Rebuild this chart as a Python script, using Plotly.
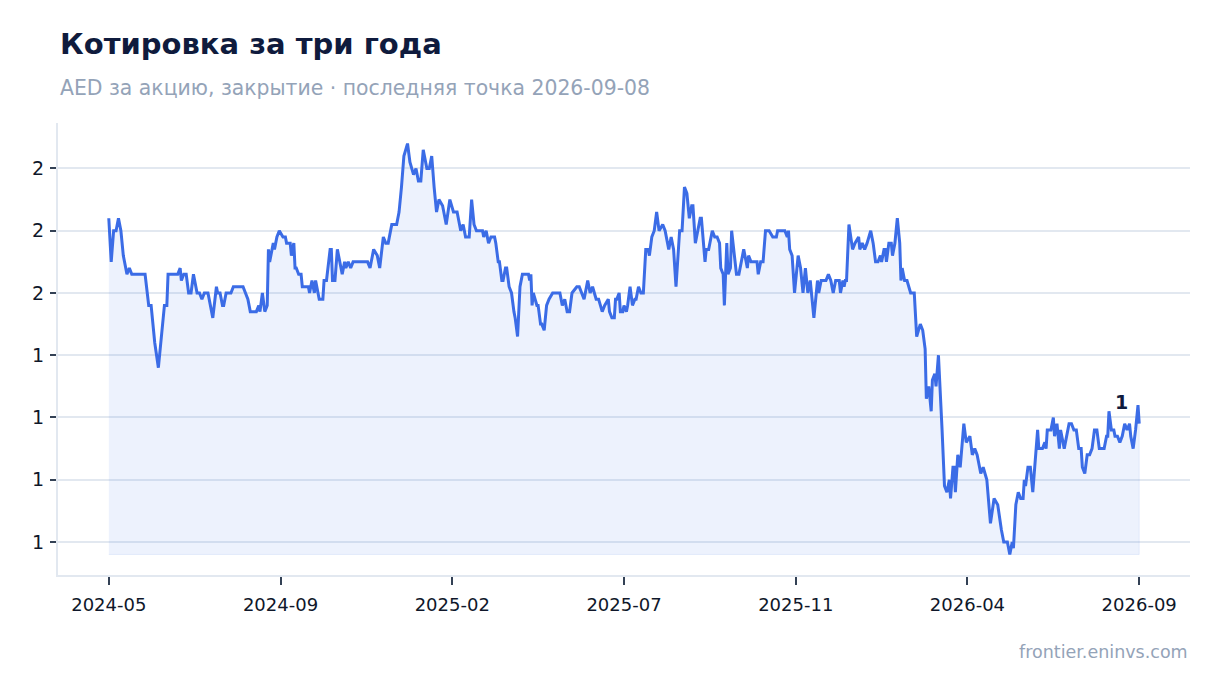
import datetime as dt
import plotly.graph_objects as go

TITLE = "Котировка за три года"
SUBTITLE = "AED за акцию, закрытие · последняя точка 2026-09-08"
FOOTER = "frontier.eninvs.com"

START = "2024-05-09"

day_offsets = [
    0, 2, 4, 6, 8, 10, 12, 15, 17, 19, 30, 33, 35, 38, 41, 44, 46, 48, 49, 57,
    59, 60, 62, 64, 66, 68, 70, 73, 75, 77, 79, 82, 84, 86, 89, 90, 92, 94, 95, 97,
    101, 103, 111, 113, 115, 117, 122, 124, 125, 127, 129, 131, 132, 133, 136, 137, 139, 141, 144, 146,
    147, 148, 150, 151, 153, 154, 155, 157, 159, 160, 162, 165, 166, 168, 170, 171, 174, 177, 178, 180,
    183, 184, 185, 187, 189, 193, 195, 196, 198, 200, 202, 205, 214, 216, 219, 222, 224, 227, 229, 231,
    234, 238, 240, 242, 244, 247, 249, 252, 254, 256, 258, 260, 263, 265, 267, 269, 271, 273, 276, 279,
    282, 285, 288, 291, 293, 295, 298, 300, 302, 304, 309, 310, 312, 314, 316, 319, 320, 322, 323, 325,
    326, 328, 329, 331, 333, 335, 336, 338, 340, 342, 344, 347, 348, 349, 350, 351, 354, 355, 357, 358,
    360, 362, 364, 367, 373, 375, 377, 379, 381, 383, 387, 389, 393, 396, 398, 400, 403, 405, 408, 410,
    413, 414, 416, 418, 419, 420, 422, 423, 425, 426, 428, 429, 431, 433, 435, 436, 438, 440, 442, 444,
    446, 447, 449, 451, 453, 455, 458, 460, 463, 465, 467, 469, 472, 474, 476, 478, 480, 482, 483, 485,
    487, 489, 490, 493, 494, 496, 499, 501, 503, 505, 506, 508, 509, 511, 512, 514, 515, 517, 519, 521,
    525, 528, 529, 531, 536, 537, 539, 541, 543, 546, 549, 552, 553, 559, 561, 562, 563, 565, 567, 570,
    572, 574, 576, 578, 580, 583, 586, 587, 589, 591, 593, 595, 597, 599, 601, 604, 605, 607, 608, 609,
    610, 612, 615, 617, 620, 621, 623, 625, 627, 630, 632, 634, 636, 638, 639, 641, 642, 643, 645, 647,
    648, 650, 652, 654, 655, 656, 658, 660, 663, 666, 668, 671, 673, 675, 676, 678, 679, 680, 681, 683,
    684, 686, 689, 691, 693, 695, 696, 698, 699, 700, 702, 704, 707, 709, 712, 714, 716, 718, 721, 723,
    726, 727, 729, 732, 735, 738, 740, 743, 745, 747, 748, 750, 752, 754, 756, 757, 758, 760, 762, 764,
    768, 769, 772, 774, 775, 776, 779, 781, 782, 784, 786, 787, 790, 792, 794, 796, 798, 800, 802, 804,
    805, 807, 809, 811, 813, 815, 817, 819, 822, 823, 825, 826, 827, 829, 831, 832, 834, 836, 838, 840,
    842, 844, 845, 847, 849, 851, 852,
]

close_aed = [
    1.62, 1.55, 1.60, 1.60, 1.62, 1.60, 1.56, 1.53, 1.54, 1.53, 1.53, 1.48, 1.48, 1.42, 1.38, 1.44, 1.48, 1.48, 1.53, 1.53,
    1.54, 1.52, 1.53, 1.53, 1.50, 1.50, 1.53, 1.50, 1.50, 1.49, 1.50, 1.50, 1.48, 1.46, 1.51, 1.50, 1.50, 1.48, 1.48, 1.50,
    1.50, 1.51, 1.51, 1.50, 1.49, 1.47, 1.47, 1.48, 1.47, 1.50, 1.47, 1.48, 1.57, 1.55, 1.58, 1.57, 1.59, 1.60, 1.59, 1.59,
    1.58, 1.58, 1.58, 1.56, 1.58, 1.54, 1.54, 1.53, 1.53, 1.51, 1.51, 1.51, 1.50, 1.52, 1.50, 1.52, 1.49, 1.49, 1.52, 1.52,
    1.57, 1.57, 1.52, 1.52, 1.57, 1.53, 1.55, 1.54, 1.55, 1.54, 1.55, 1.55, 1.55, 1.54, 1.57, 1.56, 1.54, 1.59, 1.58, 1.58,
    1.61, 1.61, 1.63, 1.67, 1.72, 1.74, 1.71, 1.69, 1.70, 1.68, 1.68, 1.73, 1.70, 1.70, 1.72, 1.67, 1.63, 1.65, 1.64, 1.61,
    1.65, 1.63, 1.63, 1.60, 1.61, 1.59, 1.59, 1.65, 1.61, 1.60, 1.60, 1.59, 1.60, 1.58, 1.59, 1.59, 1.58, 1.55, 1.55, 1.52,
    1.52, 1.54, 1.54, 1.51, 1.50, 1.47, 1.46, 1.43, 1.51, 1.53, 1.53, 1.53, 1.52, 1.53, 1.48, 1.50, 1.48, 1.48, 1.45, 1.45,
    1.44, 1.48, 1.49, 1.50, 1.50, 1.48, 1.49, 1.47, 1.47, 1.50, 1.51, 1.51, 1.49, 1.52, 1.50, 1.51, 1.49, 1.49, 1.47, 1.48,
    1.49, 1.47, 1.46, 1.46, 1.49, 1.49, 1.50, 1.47, 1.47, 1.48, 1.47, 1.48, 1.51, 1.48, 1.49, 1.49, 1.51, 1.50, 1.50, 1.57,
    1.57, 1.56, 1.59, 1.60, 1.63, 1.60, 1.61, 1.60, 1.57, 1.59, 1.57, 1.51, 1.60, 1.60, 1.67, 1.66, 1.62, 1.64, 1.64, 1.58,
    1.60, 1.62, 1.62, 1.55, 1.57, 1.57, 1.60, 1.59, 1.59, 1.58, 1.54, 1.53, 1.48, 1.58, 1.53, 1.54, 1.60, 1.56, 1.53, 1.53,
    1.57, 1.54, 1.56, 1.55, 1.55, 1.53, 1.55, 1.55, 1.60, 1.60, 1.59, 1.59, 1.60, 1.60, 1.59, 1.60, 1.57, 1.56, 1.50, 1.56,
    1.54, 1.50, 1.54, 1.50, 1.52, 1.46, 1.52, 1.50, 1.52, 1.52, 1.52, 1.53, 1.52, 1.50, 1.52, 1.52, 1.50, 1.52, 1.51, 1.52,
    1.52, 1.61, 1.57, 1.58, 1.59, 1.57, 1.58, 1.57, 1.58, 1.60, 1.58, 1.55, 1.55, 1.56, 1.55, 1.57, 1.57, 1.55, 1.58, 1.58,
    1.56, 1.58, 1.62, 1.58, 1.52, 1.54, 1.52, 1.52, 1.50, 1.50, 1.43, 1.45, 1.44, 1.41, 1.33, 1.35, 1.33, 1.31, 1.36, 1.37,
    1.35, 1.40, 1.28, 1.19, 1.18, 1.20, 1.17, 1.22, 1.22, 1.18, 1.24, 1.22, 1.29, 1.26, 1.27, 1.24, 1.25, 1.24, 1.21, 1.22,
    1.20, 1.18, 1.13, 1.17, 1.16, 1.12, 1.10, 1.10, 1.08, 1.10, 1.09, 1.16, 1.18, 1.17, 1.17, 1.20, 1.19, 1.22, 1.22, 1.18,
    1.28, 1.25, 1.25, 1.26, 1.25, 1.28, 1.28, 1.30, 1.27, 1.29, 1.25, 1.28, 1.25, 1.27, 1.29, 1.29, 1.28, 1.28, 1.25, 1.25,
    1.22, 1.21, 1.24, 1.24, 1.25, 1.28, 1.28, 1.25, 1.25, 1.25, 1.27, 1.27, 1.31, 1.28, 1.28, 1.27, 1.27, 1.26, 1.27, 1.29,
    1.28, 1.29, 1.27, 1.25, 1.28, 1.32, 1.29,
]

Y_TICKS = [1.1, 1.2, 1.3, 1.4, 1.5, 1.6, 1.7]
N_X_TICKS = 7

LINE_COLOR = "#3b6ce6"
FILL_COLOR = "rgba(59,108,230,0.09)"
FONT = "DejaVu Sans"

start = dt.date.fromisoformat(START)
dates = [start + dt.timedelta(days=d) for d in day_offsets]

ymin, ymax = min(close_aed), max(close_aed)
ypad = (ymax - ymin) * 0.05
t0, t1 = dates[0], dates[-1]
span = (t1 - t0).days
xpad = dt.timedelta(days=span * 0.05)
xticks = [t0 + dt.timedelta(days=span * i / (N_X_TICKS - 1)) for i in range(N_X_TICKS)]

fig = go.Figure()
# shaded area down to the series minimum
fig.add_trace(go.Scatter(
    x=dates + dates[::-1],
    y=close_aed + [ymin] * len(dates),
    fill="toself",
    fillcolor=FILL_COLOR,
    line=dict(color="rgba(59,108,230,0.10)", width=1),
    mode="lines",
    hoverinfo="skip",
    showlegend=False,
))
fig.add_trace(go.Scatter(
    x=dates, y=close_aed, mode="lines",
    line=dict(color=LINE_COLOR, width=3),
    showlegend=False,
))

fig.add_annotation(
    x=dates[-1], y=close_aed[-1], text=f"<b>{close_aed[-1]:.0f}</b>",
    showarrow=False, xshift=-18, yshift=22,
    font=dict(family=FONT, size=19, color="#0f1b3d"),
)
fig.add_annotation(
    xref="paper", yref="paper", x=0, y=1.175, xanchor="left", yanchor="middle",
    text=f"<b>{TITLE}</b>", showarrow=False,
    font=dict(family=FONT, size=29, color="#0f1b3d"),
)
fig.add_annotation(
    xref="paper", yref="paper", x=0, y=1.077, xanchor="left", yanchor="middle",
    text=SUBTITLE, showarrow=False,
    font=dict(family=FONT, size=20.4, color="#94a3b8"),
)
fig.add_annotation(
    xref="paper", yref="paper", x=1, y=-0.17, xanchor="right", yanchor="middle",
    text=FOOTER, showarrow=False,
    font=dict(family=FONT, size=17.5, color="#94a3b8"),
)

fig.update_layout(
    width=1204, height=677,
    margin=dict(l=50, r=22, t=115, b=110),
    paper_bgcolor="white", plot_bgcolor="white",
    font=dict(family=FONT, size=18, color="#1e293b"),
)
fig.update_xaxes(
    range=[t0 - xpad, t1 + xpad],
    tickvals=xticks, tickformat="%Y-%m",
    showgrid=False, showline=True, linecolor="#e2e8f0", linewidth=2,
    ticks="outside", ticklen=8, tickcolor="#334155", tickwidth=2,
    ticklabelstandoff=4,
    tickfont=dict(size=18, color="#0f172a"),
    zeroline=False,
)
fig.update_yaxes(
    range=[ymin - ypad, ymax + ypad],
    tickvals=Y_TICKS, tickformat=".0f",
    showgrid=True, gridcolor="#e2e8f0", gridwidth=2,
    showline=True, linecolor="#e2e8f0", linewidth=2,
    ticks="outside", ticklen=6, tickcolor="#334155", tickwidth=2,
    ticklabelstandoff=2,
    tickfont=dict(size=19, color="#0f172a"),
    zeroline=False,
)

fig.write_html("out.html")
